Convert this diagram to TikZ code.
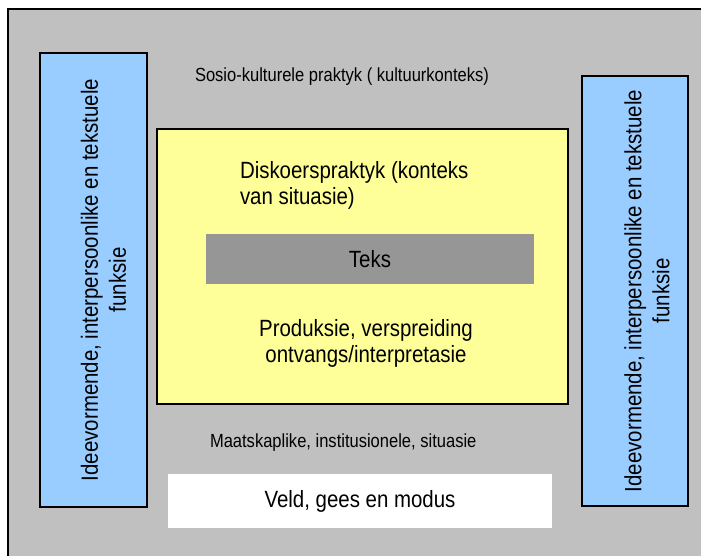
\documentclass[tikz,border=0pt]{standalone}
\usepackage{fontspec}
\setmainfont{Liberation Sans}[FakeStretch=0.87]
\definecolor{bggray}{HTML}{C0C0C0}
\definecolor{boxblue}{HTML}{99CCFF}
\definecolor{boxyellow}{HTML}{FFFF99}
\definecolor{tekgray}{HTML}{969696}
\begin{document}
\begin{tikzpicture}[x=1pt,y=-1pt,
  boxframe/.style={draw=black,line width=1.3pt,inner sep=0pt,outer sep=0pt},
  plainbox/.style={draw=none,inner sep=0pt,outer sep=0pt},
  bigtxt/.style={font=\fontsize{23.5}{26.5}\selectfont,inner sep=0pt,outer sep=0pt},
  sidetxt/.style={font=\fontsize{23.5}{28}\selectfont,inner sep=0pt,outer sep=0pt,align=center,rotate=90},
  smalltxt/.style={font=\fontsize{19}{22}\selectfont,inner sep=0pt,outer sep=0pt}]
\clip (0,0) rectangle (701,556);
\fill[white] (0,0) rectangle (701,556);
% outer frame (runs past the right and bottom edges)
\node[boxframe,line width=1.6pt,fill=bggray,minimum width=712,minimum height=580] (outer) at (364,299) {};
% side boxes
\node[boxframe,fill=boxblue,minimum width=107,minimum height=454] (leftbox) at (93.5,280) {};
\node[boxframe,fill=boxblue,minimum width=106,minimum height=430] (rightbox) at (635,291) {};
% yellow box
\node[boxframe,fill=boxyellow,minimum width=411,minimum height=275] (yellow) at (362.5,266.5) {};
% Teks box
\node[plainbox,fill=tekgray,minimum width=328,minimum height=50] (teksbox) at (370,259) {};
% white box
\node[plainbox,fill=white,minimum width=384,minimum height=54] (veldbox) at (360,501) {};
% texts
\node[sidetxt] (lefttxt) at (103.5,280) {Ideevormende, interpersoonlike en tekstuele\\funksie};
\node[sidetxt] (righttxt) at (647,291) {Ideevormende, interpersoonlike en tekstuele\\funksie};
\node[smalltxt,anchor=base west] (sosio) at (195,82) {Sosio-kulturele praktyk ( kultuurkonteks)};
\node[bigtxt,align=left,anchor=north west] (disk) at (240,161) {Diskoerspraktyk (konteks\\van situasie)};
\node[bigtxt] (teks) at (teksbox.center) {Teks};
\node[bigtxt,align=center,anchor=north] (prod) at (366,319) {Produksie, verspreiding\\ontvangs/interpretasie};
\node[smalltxt,anchor=base west] (maat) at (210,447) {Maatskaplike, institusionele, situasie};
\node[bigtxt] (veld) at (veldbox.center) {Veld, gees en modus};
\end{tikzpicture}
\end{document}
